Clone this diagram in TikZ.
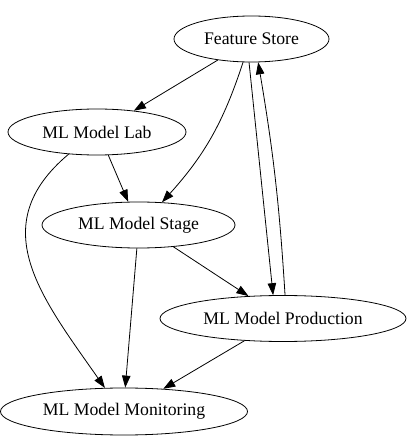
\documentclass[tikz,border=0pt]{standalone}
\usepackage{fontspec}
\setmainfont{Liberation Serif}
\usetikzlibrary{arrows.meta}
\usetikzlibrary{shapes.geometric}

\begin{document}
\begin{tikzpicture}[x=1pt, y=1pt, >={Triangle[length=12pt,width=8.5pt]}, line width=0.8pt,
  phase/.style={ellipse, draw, inner sep=0pt, minimum height=46pt,
    font=\fontsize{17.7}{20}\selectfont}]
\useasboundingbox (0,0) rectangle (409,440);

\node [phase, minimum width=155pt, name=fs]    at (251.5,401) {Feature Store};
\node [phase, minimum width=178pt, name=lab]   at (97,308)    {ML Model Lab};
\node [phase, minimum width=193pt, name=stage] at (138.5,215) {ML Model Stage};
\node [phase, minimum width=246pt, name=prod]  at (283,121.5) {ML Model Production};
\node [phase, minimum width=247pt, minimum height=47pt, name=mon] at (124,28.5) {ML Model Monitoring};

\draw [->] (fs.-148) -- (lab.30);
\draw [->] (fs.-110) to[bend left=12] (stage.44);
\draw [->] (fs.-96) -- (prod.113);
\draw [->] (prod.85) to[bend right=3] (fs.-74);
\draw [->] (lab.-64) -- (stage.114);
\draw [->] (lab.-142) to[out=-140, in=125, looseness=1.2] (mon.129);
\draw [->] (stage.-94) -- (mon.87);
\draw [->] (stage.-32) -- (prod.147);
\draw [->] (prod.-150) -- (mon.30);
\end{tikzpicture}
\end{document}
